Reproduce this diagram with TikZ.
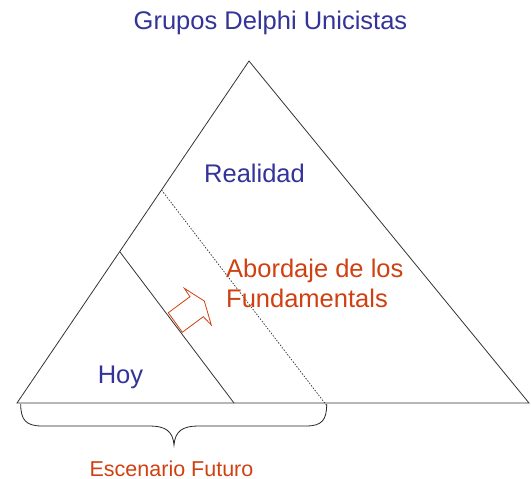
\documentclass[tikz,border=0pt]{standalone}
\usepackage{fontspec}
\setmainfont{Liberation Sans}
\definecolor{dblue}{RGB}{51,51,153}
\definecolor{dorange}{RGB}{208,64,16}
\begin{document}
\begin{tikzpicture}[x=1pt,y=-1pt,
  edge/.style={draw=black!80,line width=0.8pt},
  bluetext/.style={text=dblue,font=\fontsize{25.5}{28}\selectfont,inner sep=0pt},
  orangetext/.style={text=dorange,font=\fontsize{25.5}{30}\selectfont,inner sep=0pt,align=left},
  smalltext/.style={text=dorange,font=\fontsize{21.5}{24}\selectfont,inner sep=0pt}]
\useasboundingbox (0,0) rectangle (531,479);
\coordinate (apex) at (249,61);
\coordinate (bl) at (17,403);
\coordinate (br) at (529,403);
\coordinate (s1) at (120,252);
\coordinate (s2) at (234,403);
\coordinate (d1) at (161.5,190);
\coordinate (d2) at (327,406);
\draw[edge,line join=miter] (bl) -- (apex) -- (br) -- cycle;
\draw[edge] (s1) -- (s2);
\draw[black!80,line width=0.7pt,dash pattern=on 1.5pt off 1.5pt] (d1) -- (d2);
\draw[dorange,line width=0.8pt,line join=miter]
  (168.3,312.7) -- (190,296.7) -- (184.3,288.3) -- (204.3,301) -- (211.3,325)
  -- (203.3,316.7) -- (182.3,332.3) -- cycle;
\draw[black!85,line width=0.8pt]
  (20.7,404) .. controls (20.7,420) and (26,426) .. (42,426)
  -- (150,426) .. controls (165,426) and (173,431) .. (174,445)
  .. controls (175,431) and (183,426) .. (198,426)
  -- (306,426) .. controls (322,426) and (326.7,420) .. (326.7,404);
\node[bluetext] (title) at (270.5,23) {Grupos Delphi Unicistas};
\node[bluetext] (real) at (254.5,173) {Realidad};
\node[orangetext,anchor=west] (abord) at (226,283) {Abordaje de los\\Fundamentals};
\node[bluetext] (hoy) at (120.5,377) {Hoy};
\node[smalltext,anchor=base] (esc) at (171.5,476) {Escenario Futuro};
\end{tikzpicture}
\end{document}
